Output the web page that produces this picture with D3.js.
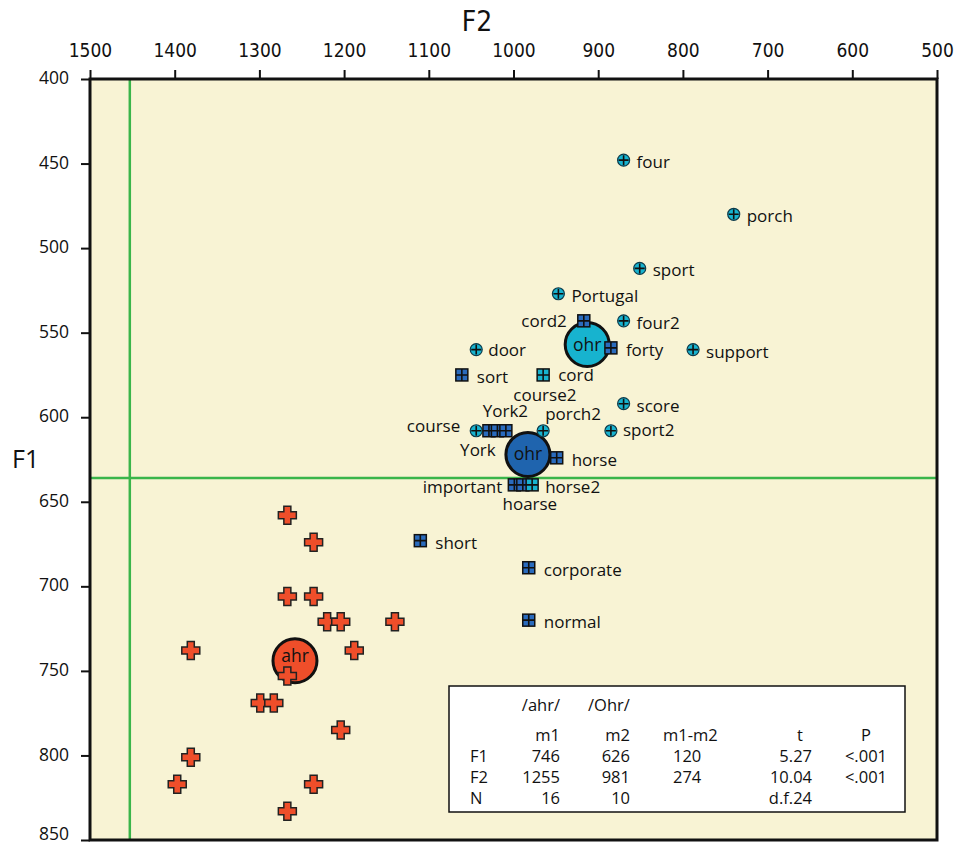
<!DOCTYPE html>
<html>
<head>
<meta charset="utf-8">
<script src="https://cdn.jsdelivr.net/npm/d3@7"></script>
<style>
body { margin: 0; background: #fff; }
svg text { font-family: "Open Sans", "Noto Sans", sans-serif; fill: #111; }
svg text.narrow { font-family: "Liberation Sans Narrow", "DejaVu Sans Condensed", "Roboto Condensed", sans-serif; font-stretch: condensed; }
</style>
</head>
<body>
<svg width="954" height="845"></svg>
<script>
// /ahr/ tokens (red crosses)
var ahrF2 = [1267, 1236, 1267, 1236, 1220, 1204, 1140, 1381, 1188, 1267, 1299, 1283, 1204, 1381, 1397, 1236, 1267];
var ahrF1 = [658, 674, 706, 706, 721, 721, 721, 738, 738, 753, 769, 769, 785, 801, 817, 817, 833];

// /Ohr/ tokens, round markers
var roundWords = ["four", "porch", "sport", "Portugal", "four2", "door", "support", "score", "sport2", "porch2", "course"];
var roundF2 = [870, 740, 851, 947, 870, 1044, 788, 870, 885, 965, 1044];
var roundF1 = [448, 480, 512, 527, 543, 560, 560, 592, 608, 608, 608];

// /Ohr/ tokens, square markers
var squareWords = ["cord2", "forty", "sort", "cord", "York", "York2", "course2", "horse", "important", "hoarse", "horse2", "short", "corporate", "normal"];
var squareF2 = [917, 885, 1061, 965, 1029, 1019, 1009, 949, 999, 989, 978, 1110, 982, 982];
var squareF1 = [543, 559, 575, 575, 608, 608, 608, 624, 640, 640, 640, 673, 689, 720];
var squareKind = ["blue", "blue", "blue", "cyan", "blue", "blue", "blue", "blue", "blue", "blue", "cyan", "blue", "blue", "blue"];

// group means
var meanLabels = ["ahr", "ohr", "ohr"];
var meanF2 = [1258, 913, 983];
var meanF1 = [744, 557, 622];
var meanKind = ["red", "cyan", "blue"];

// green reference lines
var refF2 = 1453, refF1 = 636;

var f2Ticks = [1500, 1400, 1300, 1200, 1100, 1000, 900, 800, 700, 600, 500];
var f1Ticks = [400, 450, 500, 550, 600, 650, 700, 750, 800, 850];

var tableGroups = ["/ahr/", "/Ohr/"];
var tableHeader = ["m1", "m2", "m1-m2", "t", "P"];
var tableRows = [
    ["F1", "746", "626", "120", "5.27", "<.001"],
    ["F2", "1255", "981", "274", "10.04", "<.001"],
    ["N", "16", "10", "", "d.f.24", ""]
];

var colors = { red: "#ef4e2a", cyan: "#17b3cf", blue: "#1f64ae", bg: "#f8f3d4", green: "#3ab54a" };

var svg = d3.select("svg");

var x = d3.scaleLinear().domain([1500, 500]).range([90, 937]),
    y = d3.scaleLinear().domain([400, 850]).range([79, 840]);

// plot background
svg.append("rect")
    .attr("x", x(1500)).attr("y", y(400))
    .attr("width", x(500) - x(1500)).attr("height", y(850) - y(400))
    .attr("fill", colors.bg);

// reference lines
svg.append("line")
    .attr("x1", x(refF2)).attr("x2", x(refF2))
    .attr("y1", y(400)).attr("y2", y(850))
    .attr("stroke", colors.green).attr("stroke-width", 2.5);
svg.append("line")
    .attr("x1", x(1500)).attr("x2", x(500))
    .attr("y1", y(refF1)).attr("y2", y(refF1))
    .attr("stroke", colors.green).attr("stroke-width", 2.5);

// axes
var gx = svg.append("g")
    .attr("transform", "translate(0," + y(400) + ")")
    .call(d3.axisTop(x).tickValues(f2Ticks).tickSize(9).tickPadding(13).tickFormat(d3.format("d")));
gx.selectAll("text").attr("class", "narrow").style("font-size", "19px");

var gy = svg.append("g")
    .attr("transform", "translate(" + x(1500) + ",0)")
    .call(d3.axisLeft(y).tickValues(f1Ticks).tickSize(9).tickPadding(12).tickFormat(d3.format("d")));
gy.selectAll("text")
    .attr("dy", function(d) { return d == 850 ? "-0.05em" : "0.26em"; })
    .style("font-size", "17.5px");

svg.selectAll(".domain").remove();
svg.selectAll(".tick line").attr("stroke", "#111").attr("stroke-width", 2);
svg.selectAll(".tick text").attr("fill", "#111");

// frame
svg.append("rect")
    .attr("x", x(1500)).attr("y", y(400))
    .attr("width", x(500) - x(1500)).attr("height", y(850) - y(400))
    .attr("fill", "none").attr("stroke", "#111").attr("stroke-width", 3);

svg.append("text")
    .attr("class", "narrow")
    .attr("x", 477).attr("y", 31)
    .attr("text-anchor", "middle")
    .style("font-size", "28px")
    .text("F2");

svg.append("text")
    .attr("x", 12).attr("y", 468)
    .style("font-size", "25px")
    .text("F1");

// means (drawn under the tokens)
var means = meanLabels.map(function(d, i) { return { label: d, f2: meanF2[i], f1: meanF1[i], kind: meanKind[i] }; });
var mg = svg.selectAll(".mean").data(means).enter().append("g")
    .attr("class", "mean")
    .attr("transform", function(d) { return "translate(" + x(d.f2) + "," + y(d.f1) + ")"; });
mg.append("circle")
    .attr("r", 22)
    .attr("fill", function(d) { return colors[d.kind]; })
    .attr("stroke", "#111").attr("stroke-width", 3);
mg.append("text")
    .attr("text-anchor", "middle")
    .attr("y", function(d) { return d.label == "ahr" ? 1 : 6; })
    .style("font-size", "17.5px")
    .text(function(d) { return d.label; });

// label placement: [dx, dy, anchor]
var labelPlace = {
    "cord2": [-17, 6, "end"],
    "course": [-16, 1, "end"],
    "York": [-11, 25, "middle"],
    "York2": [8, -14, "middle"],
    "course2": [39, -30, "middle"],
    "porch2": [2, -11, "start"],
    "important": [-12, 8, "end"],
    "hoarse": [7, 25, "middle"],
    "horse2": [13, 8, "start"],
    "sport2": [12, 5, "start"],
    "door": [12, 6, "start"],
    "cord": [15, 6, "start"]
};

// red crosses
var ahr = ahrF2.map(function(d, i) { return { f2: d, f1: ahrF1[i] }; });
svg.selectAll(".ahr").data(ahr).enter().append("path")
    .attr("class", "ahr")
    .attr("transform", function(d) { return "translate(" + x(d.f2) + "," + y(d.f1) + ")"; })
    .attr("d", "M-3.5,-9H3.5V-3.5H9V3.5H3.5V9H-3.5V3.5H-9V-3.5H-3.5Z")
    .attr("fill", colors.red)
    .attr("stroke", "#222").attr("stroke-width", 1.5);

// round markers
var rounds = roundWords.map(function(d, i) { return { word: d, f2: roundF2[i], f1: roundF1[i] }; });
var rg = svg.selectAll(".round").data(rounds).enter().append("g")
    .attr("class", "round")
    .attr("transform", function(d) { return "translate(" + x(d.f2) + "," + y(d.f1) + ")"; });
rg.append("circle")
    .attr("r", 6)
    .attr("fill", colors.cyan)
    .attr("stroke", "#0d3a4a").attr("stroke-width", 1.2);
rg.append("path")
    .attr("d", "M-5,0H5M0,-5V5")
    .attr("stroke", "#111").attr("stroke-width", 1.6);

// square markers
var squares = squareWords.map(function(d, i) { return { word: d, f2: squareF2[i], f1: squareF1[i], kind: squareKind[i] }; });
var sg = svg.selectAll(".square").data(squares).enter().append("g")
    .attr("class", "square")
    .attr("transform", function(d) { return "translate(" + x(d.f2) + "," + y(d.f1) + ")"; });
sg.append("rect")
    .attr("x", -6).attr("y", -6).attr("width", 12).attr("height", 12)
    .attr("fill", function(d) { return d.kind == "cyan" ? colors.cyan : "#2a6bbd"; })
    .attr("stroke", "#111").attr("stroke-width", 1.5);
sg.append("path")
    .attr("d", "M-6,0H6M0,-6V6")
    .attr("stroke", "#111").attr("stroke-width", 1.6);

// labels
function addLabels(sel, defDx) {
    sel.append("text")
        .attr("x", function(d) { return labelPlace[d.word] ? labelPlace[d.word][0] : defDx; })
        .attr("y", function(d) { return labelPlace[d.word] ? labelPlace[d.word][1] : 8; })
        .attr("text-anchor", function(d) { return labelPlace[d.word] ? labelPlace[d.word][2] : "start"; })
        .style("font-size", "17px")
        .text(function(d) { return d.word; });
}
addLabels(rg, 13);
addLabels(sg, 15);

// stats table
var tb = svg.append("g");
tb.append("rect")
    .attr("x", 449).attr("y", 686).attr("width", 456).attr("height", 126)
    .attr("fill", "#fff").attr("stroke", "#111").attr("stroke-width", 1.5);

var groupPos = [[560, "end"], [588, "start"]];
tb.selectAll(".grp").data(tableGroups).enter().append("text")
    .attr("x", function(d, i) { return groupPos[i][0]; })
    .attr("y", 711)
    .attr("text-anchor", function(d, i) { return groupPos[i][1]; })
    .style("font-size", "16.5px")
    .text(function(d) { return d; });

var headPos = [[560, "end"], [630, "end"], [663, "start"], [800, "middle"], [866, "middle"]];
tb.selectAll(".hd").data(tableHeader).enter().append("text")
    .attr("x", function(d, i) { return headPos[i][0]; })
    .attr("y", 741)
    .attr("text-anchor", function(d, i) { return headPos[i][1]; })
    .style("font-size", "16.5px")
    .text(function(d) { return d; });

var colPos = [[470, "start"], [560, "end"], [630, "end"], [673, "start"], [812, "end"], [887, "end"]];
var rowY = [762, 783, 804];
tableRows.forEach(function(row, r) {
    tb.selectAll(".r" + r).data(row).enter().append("text")
        .attr("x", function(d, i) { return colPos[i][0]; })
        .attr("y", rowY[r])
        .attr("text-anchor", function(d, i) { return colPos[i][1]; })
        .style("font-size", "16.5px")
        .text(function(d) { return d; });
});
</script>
</body>
</html>
